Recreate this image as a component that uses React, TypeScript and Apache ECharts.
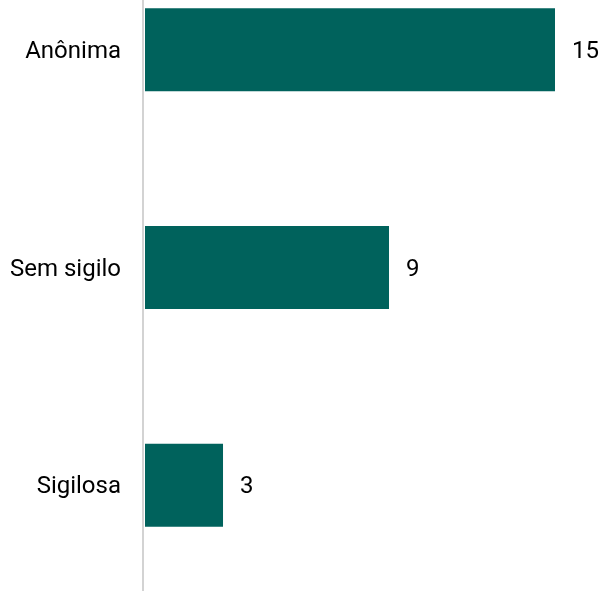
import React, { useEffect, useRef } from "react";
import * as echarts from "echarts";

const categories = ["Anônima", "Sem sigilo", "Sigilosa"];
const values = [15, 9, 3];

export default function App() {
  const ref = useRef<HTMLDivElement>(null);
  useEffect(() => {
    const chart = echarts.init(ref.current!, null, { renderer: "svg" });
    chart.setOption({
      animation: false,
      grid: { left: 145, right: 50, top: 0, bottom: 0, containLabel: false },
      xAxis: {
        type: "value",
        min: 0.18,
        max: 15,
        show: false,
      },
      yAxis: {
        type: "category",
        inverse: true,
        data: categories,
        offset: 2,
        axisLine: { show: true, lineStyle: { color: "#d3d3d3", width: 2 } },
        axisTick: { show: false },
        axisLabel: { color: "#000", fontFamily: "Roboto", fontSize: 24, margin: 22 },
      },
      series: [
        {
          type: "bar",
          data: values,
          barWidth: 83,
          itemStyle: { color: "#00625c" },
          label: {
            show: true,
            position: "right",
            distance: 17,
            color: "#000",
            fontFamily: "Roboto",
            fontSize: 24,
          },
        },
      ],
    });
    return () => chart.dispose();
  }, []);
  return (
    <div style={{ position: "fixed", left: 0, top: 0, width: 605, height: 591, overflow: "hidden" }}>
      <div ref={ref} style={{ position: "absolute", left: 0, top: -59, width: 605, height: 653 }} />
    </div>
  );
}
